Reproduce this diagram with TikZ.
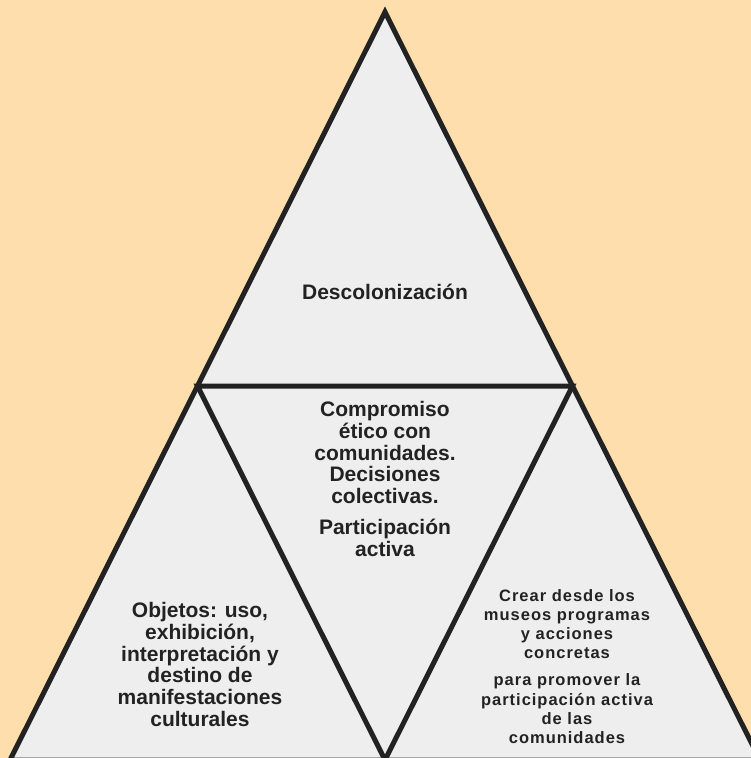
\documentclass[tikz,border=0pt]{standalone}
\usepackage{fontspec}
\setmainfont{Liberation Sans}
\newfontfamily\spacedfont[LetterSpace=6]{Liberation Sans}
\definecolor{peach}{HTML}{FFDEAD}
\definecolor{pane}{HTML}{EEEEEE}
\definecolor{ink}{HTML}{222222}
\begin{document}
\begin{tikzpicture}[x=1pt,y=-1pt,
  edge/.style={draw=ink,line width=5pt,line join=miter},
  label/.style={inner sep=0pt,align=center,text=ink,font=\bfseries\fontsize{21}{21.8}\selectfont},
  smalllabel/.style={inner sep=0pt,align=center,text=ink,font=\spacedfont\bfseries\fontsize{16.5}{19.2}\selectfont}]
  % page area
  \fill[peach] (0,0) rectangle (751,758);
  \useasboundingbox (0,0) rectangle (751,758);
  \clip (0,0) rectangle (751,758);

  % corners of the large triangle and of the inner one
  \coordinate (apex) at (385,12);
  \coordinate (bl) at (10,760);
  \coordinate (br) at (760,760);
  \coordinate (ml) at (197.5,386);
  \coordinate (mr) at (572.5,386);
  \coordinate (mb) at (385,760);

  \filldraw[edge,fill=pane] (apex) -- (br) -- (bl) -- cycle;
  \draw[edge] (ml) -- (mr) -- (mb) -- cycle;

  % texts
  \node[label,anchor=base] (top) at (385,299) {Descolonización};
  \node[label,anchor=north] (mid) at (385,401)
    {Compromiso\\ético con\\comunidades.\\Decisiones\\colectivas.\\[9pt]Participación\\activa};
  \node[label,anchor=north] (left) at (200,602)
    {Objetos: uso,\\exhibición,\\interpretación y\\destino de\\manifestaciones\\culturales};
  \node[smalllabel,anchor=north] (right) at (567,589)
    {Crear desde los\\museos programas\\y acciones\\concretas\\[8pt]para promover la\\participación activa\\de las\\comunidades};
\end{tikzpicture}
\end{document}
